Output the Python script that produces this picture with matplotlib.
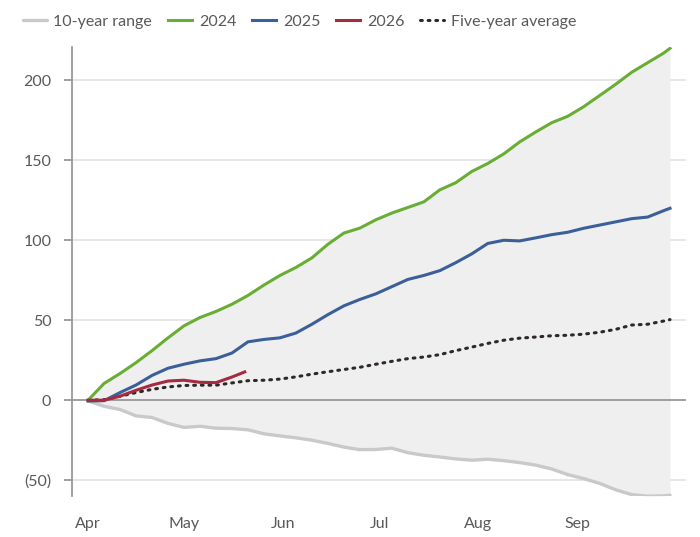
import matplotlib.pyplot as plt
import pandas as pd

# day offsets from Apr 1 (every 5 days, last point Sep 30)
days = list(range(0, 181, 5)) + [182]
dates = pd.Timestamp("2025-04-01") + pd.to_timedelta(days, unit="D")

y2024 = [0, 10.5, 16.7, 23.5, 31, 39, 46.5, 51.7, 55.5, 60, 65.5, 72, 78, 83, 89,
         97.5, 104.5, 107.6, 112.8, 117, 120.5, 124, 131.5, 136, 143, 148, 154,
         161.5, 167.7, 173.5, 177.5, 183.5, 190.5, 197.5, 205, 211, 217, 220]

y2025 = [-0.5, -0.3, 4.8, 9.5, 15.5, 20, 22.5, 24.6, 26, 29.5, 36.5, 38, 39, 42,
         47.5, 53.5, 59, 63, 66.5, 71, 75.5, 78, 81, 86, 91.5, 98, 100, 99.6,
         101.5, 103.5, 105, 107.5, 109.5, 111.5, 113.5, 114.5, 118.5, 120]

days_2026 = [0, 5, 10, 15, 20, 25, 30, 35, 40, 45, 49]
dates_2026 = pd.Timestamp("2025-04-01") + pd.to_timedelta(days_2026, unit="D")
y2026 = [0, 0, 2.5, 6.2, 9.5, 12, 12.5, 11.2, 11, 14.5, 17.7]

avg5 = [0, 0.3, 2.5, 4.8, 6.8, 8.3, 9.2, 9.4, 9.4, 10.8, 12.2, 12.5, 13.2, 14.6,
        16.3, 17.8, 19.2, 20.6, 22.5, 24.3, 26, 27, 28.5, 31, 33.2, 35.5, 37.5,
        38.8, 39.5, 40.3, 40.6, 41.3, 42.5, 44.3, 47, 47.5, 49.5, 50.4]

range_low = [-0.4, -3.8, -5.8, -9.8, -10.8, -14.5, -17, -16.3, -17.5, -17.7, -18.5,
             -21, -22.3, -23.5, -25, -27, -29.3, -30.9, -30.8, -30, -32.8, -34.4,
             -35.5, -36.7, -37.5, -36.9, -37.8, -39, -40.6, -43, -46.5, -49, -52,
             -56, -59, -60, -59.8, -59.4]
range_high = y2024  # 2024 is the top of the 10-year range

months = ["Apr", "May", "Jun", "Jul", "Aug", "Sep"]
yticks = [-50, 0, 50, 100, 150, 200]
ytick_labels = ["(50)", "0", "50", "100", "150", "200"]

text_color = "#595959"
plt.rcParams["font.family"] = ["Lato", "DejaVu Sans"]

fig = plt.figure(figsize=(7, 5.37), dpi=100)
ax = fig.add_axes([0.103, 0.076, 0.877, 0.837])

ax.fill_between(dates, range_low, range_high, color="#efefef", lw=0, zorder=1)
ax.plot(dates, range_low, color="#c9c9c9", lw=2.4, solid_capstyle="round",
        label="10-year range", zorder=2)
ax.plot(dates, y2024, color="#6aad35", lw=2.2, label="2024", zorder=4)
ax.plot(dates, y2025, color="#3b5f98", lw=2.2, label="2025", zorder=4)
ax.plot(dates_2026, y2026, color="#a62a40", lw=2.2, label="2026", zorder=5)
ax.plot(dates, avg5, color="#2e2826", lw=2.2, ls=(0, (0.6, 1.9)),
        dash_capstyle="round", label="Five-year average", zorder=3)

ax.axhline(0, color="#8f8f8f", lw=1.2, zorder=2.5)
for v in yticks:
    if v != 0:
        ax.axhline(v, color="#e2e2e2", lw=1.2, zorder=0.5)

ax.set_xlim(pd.Timestamp("2025-03-27"), pd.Timestamp("2025-10-05"))
ax.set_ylim(-60, 221)

ax.set_yticks(yticks)
ax.set_yticklabels(ytick_labels)
ax.set_xticks(pd.date_range("2025-04-01", periods=6, freq="MS"))
ax.set_xticklabels(months)

for s in ["top", "right", "bottom"]:
    ax.spines[s].set_visible(False)
ax.spines["left"].set_color("#8f8f8f")
ax.spines["left"].set_linewidth(1.2)
ax.tick_params(axis="y", length=6, width=1.2, color="#8f8f8f", pad=9,
               labelsize=11.5, labelcolor=text_color)
ax.tick_params(axis="x", length=0, pad=15, labelsize=11.5, labelcolor=text_color)

fig.legend(loc="upper left", bbox_to_anchor=(0.012, 1.0), ncol=5,
           frameon=False, fontsize=11.5, handlelength=1.5, handletextpad=0.42,
           columnspacing=1.0, labelcolor=text_color)

fig.savefig("out.png", dpi=100)
plt.close(fig)
